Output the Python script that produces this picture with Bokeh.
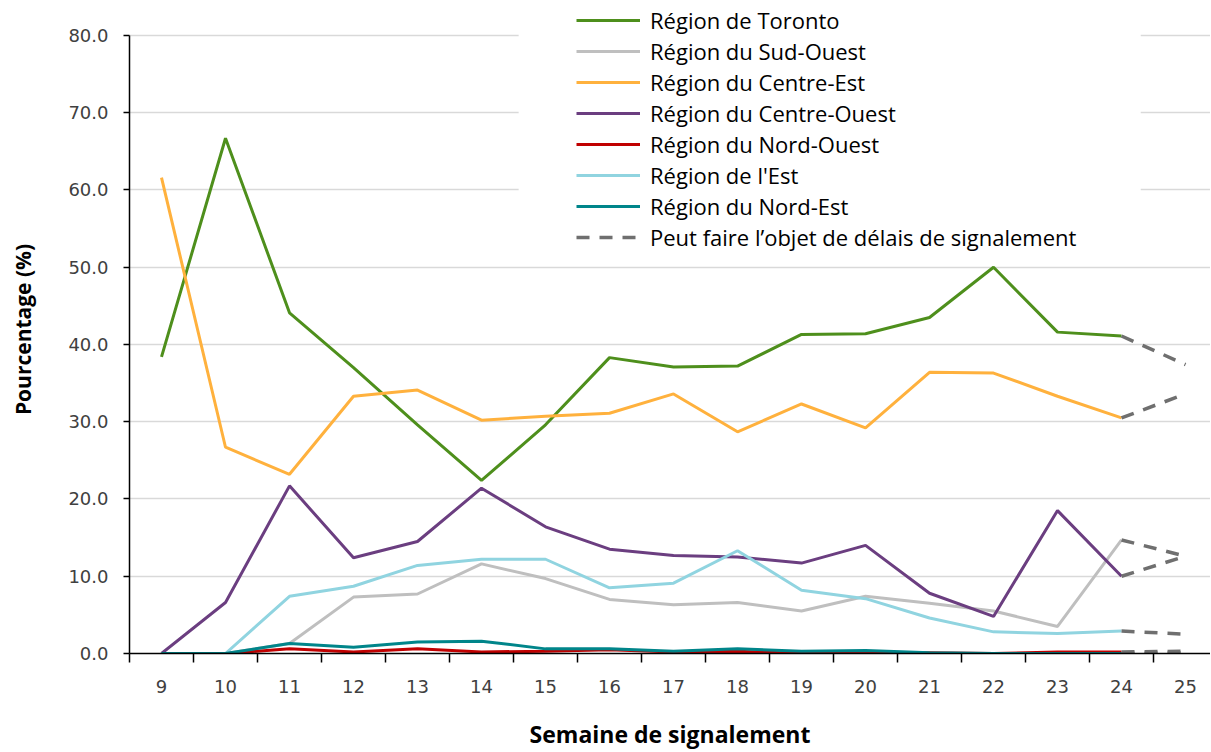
from bokeh.plotting import figure
from bokeh.models import Range1d, FixedTicker, Legend, LegendItem, NumeralTickFormatter, BoxAnnotation
from bokeh.embed import file_html
from bokeh.resources import INLINE

weeks = list(range(9, 26))
week_labels = [str(w) for w in weeks]
y_ticks = [0, 10, 20, 30, 40, 50, 60, 70, 80]

series_names = [
    "Région de Toronto",
    "Région du Sud-Ouest",
    "Région du Centre-Est",
    "Région du Centre-Ouest",
    "Région du Nord-Ouest",
    "Région de l'Est",
    "Région du Nord-Est",
]
delay_label = "Peut faire l\u2019objet de délais de signalement"

# values for weeks 9..25 (week 25 subject to reporting delays)
toronto      = [38.4, 66.7, 44.1, 37.0, 29.6, 22.4, 29.6, 38.3, 37.1, 37.2, 41.3, 41.4, 43.5, 50.0, 41.6, 41.1, 37.4]
sud_ouest    = [0.0, 0.0, 1.3, 7.3, 7.7, 11.6, 9.7, 7.0, 6.3, 6.6, 5.5, 7.4, 6.5, 5.5, 3.5, 14.7, 12.6]
centre_est   = [61.6, 26.7, 23.2, 33.3, 34.1, 30.2, 30.7, 31.1, 33.6, 28.7, 32.3, 29.2, 36.4, 36.3, 33.3, 30.5, 33.6]
centre_ouest = [0.0, 6.6, 21.7, 12.4, 14.5, 21.4, 16.4, 13.5, 12.7, 12.5, 11.7, 14.0, 7.8, 4.8, 18.5, 10.0, 12.6]
nord_ouest   = [0.0, 0.0, 0.6, 0.2, 0.6, 0.2, 0.3, 0.5, 0.2, 0.3, 0.0, 0.1, 0.1, 0.0, 0.2, 0.2, 0.3]
est          = [0.0, 0.0, 7.4, 8.7, 11.4, 12.2, 12.2, 8.5, 9.1, 13.3, 8.2, 7.1, 4.6, 2.8, 2.6, 2.9, 2.5]
nord_est     = [0.0, 0.0, 1.3, 0.8, 1.5, 1.6, 0.6, 0.6, 0.3, 0.6, 0.3, 0.4, 0.1, 0.0, 0.0, 0.0, 0.1]

all_series = [toronto, sud_ouest, centre_est, centre_ouest, nord_ouest, est, nord_est]
colors = ["#4e8f1c", "#bfbfbf", "#ffb13d", "#6b3e80", "#c00000", "#90d4e0", "#00858a"]
delay_color = "#6f6f6f"

TEXT = "#404040"

p = figure(width=1210, height=752, output_backend="svg", toolbar_location=None,
           x_range=Range1d(8.5, 25.39), y_range=Range1d(0, 83.88),
           min_border_left=129, min_border_top=5, min_border_bottom=98, min_border_right=0,
           background_fill_color="white", border_fill_color="white")
p.outline_line_color = None

# grid
p.xgrid.grid_line_color = None
p.ygrid.ticker = FixedTicker(ticks=y_ticks)
p.ygrid.grid_line_color = "#d9d9d9"
p.ygrid.grid_line_width = 1.5

# white legend box masking the grid behind the legend
mask = BoxAnnotation(left=14.58, right=24.3, bottom=51.5, top=None,
                     fill_color="white", fill_alpha=1.0, line_color=None, level="underlay")
p.add_layout(mask)

# y axis
p.yaxis.ticker = FixedTicker(ticks=y_ticks)
p.yaxis.bounds = (0, 80)
p.yaxis.formatter = NumeralTickFormatter(format="0.0")
p.yaxis.axis_line_color = "black"
p.yaxis.axis_line_width = 1.5
p.yaxis.major_tick_line_color = "black"
p.yaxis.major_tick_line_width = 1.5
p.yaxis.major_tick_out = 6
p.yaxis.major_tick_in = 0
p.yaxis.minor_tick_line_color = None
p.yaxis.major_label_text_font = "DejaVu Sans"
p.yaxis.major_label_text_font_size = "18px"
p.yaxis.major_label_text_color = TEXT
p.yaxis.major_label_standoff = 15
p.yaxis.axis_label = "Pourcentage (%)"
p.yaxis.axis_label_text_font = "Open Sans"
p.yaxis.axis_label_text_font_style = "bold"
p.yaxis.axis_label_text_font_size = "21px"
p.yaxis.axis_label_text_color = "black"
p.yaxis.axis_label_standoff = 28

# x axis: labels at weeks, ticks at boundaries
p.xaxis.ticker = FixedTicker(ticks=weeks, minor_ticks=[w - 0.5 for w in weeks] + [25.5])
p.xaxis.major_label_overrides = {w: l for w, l in zip(weeks, week_labels)}
p.xaxis.axis_line_color = "black"
p.xaxis.axis_line_width = 1.5
p.xaxis.major_tick_line_color = None
p.xaxis.major_tick_out = 0
p.xaxis.major_tick_in = 0
p.xaxis.minor_tick_line_color = "black"
p.xaxis.minor_tick_line_width = 1.5
p.xaxis.minor_tick_out = 9
p.xaxis.minor_tick_in = 0
p.xaxis.major_label_text_font = "DejaVu Sans"
p.xaxis.major_label_text_font_size = "18px"
p.xaxis.major_label_text_color = TEXT
p.xaxis.major_label_standoff = 17
p.xaxis.axis_label = "Semaine de signalement"
p.xaxis.axis_label_text_font = "Open Sans"
p.xaxis.axis_label_text_font_style = "bold"
p.xaxis.axis_label_text_font_size = "23px"
p.xaxis.axis_label_text_color = "black"
p.xaxis.axis_label_standoff = 22

items = []
solid_weeks = weeks[:-1]
for name, vals, col in zip(series_names, all_series, colors):
    r = p.line(solid_weeks, vals[:-1], line_color=col, line_width=3)
    items.append(LegendItem(label=name, renderers=[r]))

delay_r = None
for vals in all_series:
    delay_r = p.line(weeks[-2:], vals[-2:], line_color=delay_color, line_width=3.5,
                     line_dash="13 10")
items.append(LegendItem(label=delay_label, renderers=[delay_r]))

legend = Legend(items=items, location=(447, 401), padding=0, margin=0, spacing=1,
                glyph_width=64, glyph_height=30, label_height=30, label_standoff=10,
                label_text_font="Open Sans", label_text_font_size="22px", label_text_color="black",
                background_fill_alpha=0.0, border_line_color=None)
p.add_layout(legend, "center")

open("out.html", "w").write(file_html(p, INLINE))
